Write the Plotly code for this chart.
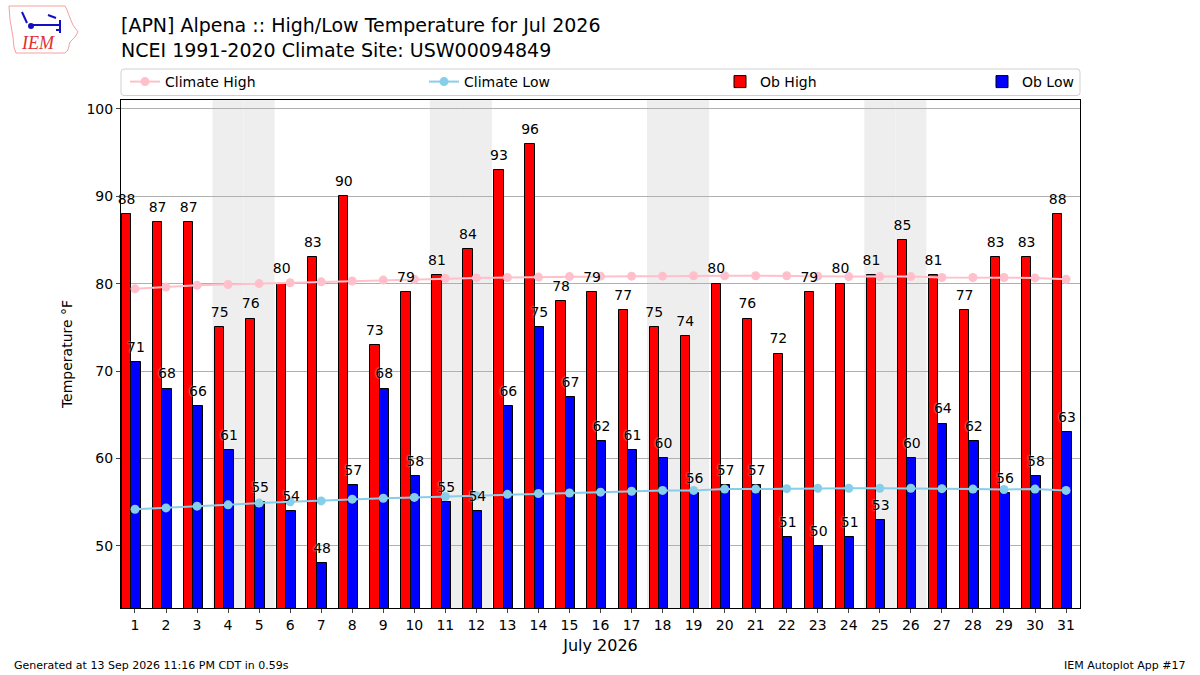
import datetime
import plotly.graph_objects as go

days = list(range(1, 32))
ob_high = [88, 87, 87, 75, 76, 80, 83, 90, 73, 79, 81, 84, 93, 96, 78, 79,
           77, 75, 74, 80, 76, 72, 79, 80, 81, 85, 81, 77, 83, 83, 88]
ob_low = [71, 68, 66, 61, 55, 54, 48, 57, 68, 58, 55, 54, 66, 75, 67, 62,
          61, 60, 56, 57, 57, 51, 50, 51, 53, 60, 64, 62, 56, 58, 63]
climate_high = [79.4, 79.6, 79.8, 79.9, 80.0, 80.1, 80.2, 80.3, 80.4, 80.5,
                80.6, 80.65, 80.7, 80.75, 80.8, 80.85, 80.85, 80.85, 80.9, 80.9,
                80.9, 80.9, 80.85, 80.8, 80.8, 80.8, 80.7, 80.7, 80.7, 80.65, 80.5]
climate_low = [54.2, 54.35, 54.55, 54.7, 54.9, 55.05, 55.15, 55.35, 55.45, 55.55,
               55.65, 55.75, 55.9, 56.0, 56.05, 56.15, 56.25, 56.35, 56.35, 56.5,
               56.5, 56.55, 56.6, 56.6, 56.6, 56.6, 56.55, 56.5, 56.45, 56.5, 56.35]
year, month = 2026, 7

FONT = "DejaVu Sans"
W, H = 1200, 675
ML, MR, MT, MB = 121, 120, 100, 67
PW, PH = W - ML - MR, H - MT - MB


def px(xp):
    return (xp - ML) / PW


def py(yp):
    return 1 - (yp - MT) / PH


HI_OFF, LO_OFF, BW = -0.27, 0.03, 0.3
x_hi = [d + HI_OFF for d in days]
x_lo = [d + LO_OFF for d in days]

fig = go.Figure()

fig.add_trace(go.Bar(
    x=x_hi, y=ob_high, width=BW, name="Ob High", legend="legend3",
    marker=dict(color="#FF0000", line=dict(color="black", width=1))))
fig.add_trace(go.Bar(
    x=x_lo, y=ob_low, width=BW, name="Ob Low", legend="legend4",
    marker=dict(color="#0000FF", line=dict(color="black", width=1))))
fig.add_trace(go.Scatter(
    x=days, y=climate_high, mode="lines+markers", name="Climate High", legend="legend",
    line=dict(color="#FFC0CB", width=2), marker=dict(color="#FFC0CB", size=9)))
fig.add_trace(go.Scatter(
    x=days, y=climate_low, mode="lines+markers", name="Climate Low", legend="legend2",
    line=dict(color="#87CEEB", width=2), marker=dict(color="#87CEEB", size=9)))

label_font = dict(color="black", size=14, family=FONT,
                  shadow="0px 0px 2px white")
for xs, ys in ((x_hi, ob_high), (x_lo, ob_low)):
    fig.add_trace(go.Scatter(
        x=xs, y=ys, mode="markers+text", text=[str(v) for v in ys],
        marker=dict(size=9, opacity=0), textposition="top center",
        textfont=label_font, showlegend=False, cliponaxis=False, hoverinfo="skip"))

shapes = []
for d in days:
    if datetime.date(year, month, d).weekday() >= 5:
        shapes.append(dict(type="rect", xref="x", yref="y domain",
                           x0=d - 0.5, x1=d + 0.5, y0=0, y1=1,
                           fillcolor="#EEEEEE", line=dict(width=0), layer="below"))

# legend frame (rounded)
L, R, T, B, r = 121, 1080, 69, 95.5, 3
frame = [("M", L + r, T), ("L", R - r, T), ("Q", R, T, R, T + r), ("L", R, B - r),
         ("Q", R, B, R - r, B), ("L", L + r, B), ("Q", L, B, L, B - r),
         ("L", L, T + r), ("Q", L, T, L + r, T)]
pth = ""
for seg in frame:
    cmd = seg[0]
    pts = seg[1:]
    coords = " ".join(f"{px(pts[i]):.5f},{py(pts[i + 1]):.5f}" for i in range(0, len(pts), 2))
    pth += f"{cmd} {coords} "
shapes.append(dict(type="path", xref="paper", yref="paper", path=pth + "Z",
                   line=dict(color="#D0D0D0", width=1), fillcolor="rgba(255,255,255,0.8)"))

# logo outline (state shape) and station glyph
outline = [(9, 6), (65, 6), (67, 10), (70, 18), (73, 25), (78, 32), (75, 37), (70, 42),
           (68, 50), (65, 53), (16, 53), (14, 47), (13, 37), (10, 20)]
path = "M " + " L ".join(f"{px(a):.4f},{py(b):.4f}" for a, b in outline) + " Z"
shapes.append(dict(type="path", xref="paper", yref="paper", path=path,
                   line=dict(color="#F4A0A0", width=1)))
glyph = [[(31, 25), (60, 25)], [(60, 20), (60, 33)], [(48, 15), (56, 18)],
         [(22, 12), (27, 23)], [(56, 30), (60, 30)]]
for (a0, b0), (a1, b1) in glyph:
    shapes.append(dict(type="line", xref="paper", yref="paper",
                       x0=px(a0), y0=py(b0), x1=px(a1), y1=py(b1),
                       line=dict(color="#1010C0", width=2)))
shapes.append(dict(type="circle", xref="paper", yref="paper",
                   x0=px(28), x1=px(34), y0=py(23), y1=py(29),
                   fillcolor="#1010C0", line=dict(width=0)))

annotations = [
    dict(text="[APN] Alpena :: High/Low Temperature for Jul 2026<br>NCEI 1991-2020 Climate Site: USW00094849",
         xref="paper", yref="paper", x=px(119), y=py(12), xanchor="left", yanchor="top",
         align="left", showarrow=False, font=dict(size=19, family=FONT, color="black")),
    dict(text="<i>IEM</i>", xref="paper", yref="paper", x=px(38), y=py(43),
         xanchor="center", yanchor="middle", showarrow=False,
         font=dict(size=18, family="Liberation Serif", color="#E03030")),
    dict(text="Generated at 13 Sep 2026 11:16 PM CDT in 0.59s", xref="paper", yref="paper",
         x=px(12), y=py(665), xanchor="left", yanchor="middle", showarrow=False,
         font=dict(size=11, family=FONT, color="black")),
    dict(text="IEM Autoplot App #17", xref="paper", yref="paper",
         x=px(1188), y=py(665), xanchor="right", yanchor="middle", showarrow=False,
         font=dict(size=11, family=FONT, color="black")),
]


def leg(xpix):
    return dict(orientation="h", x=px(xpix), xanchor="left", y=py(82), yanchor="middle",
                bgcolor="rgba(0,0,0,0)", borderwidth=0, itemwidth=30,
                font=dict(size=14, family=FONT))


fig.update_layout(
    width=W, height=H,
    margin=dict(l=ML, r=MR, t=MT, b=MB, autoexpand=False),
    paper_bgcolor="white", plot_bgcolor="white",
    font=dict(family=FONT, size=14, color="black"),
    barmode="overlay", bargap=0,
    shapes=shapes, annotations=annotations,
    legend=leg(125), legend2=leg(424), legend3=leg(720), legend4=leg(982),
    showlegend=True,
    xaxis=dict(range=[0.55, 31.45], tickmode="array", tickvals=days,
               ticktext=[str(d) for d in days], ticks="outside", ticklen=4,
               showgrid=False, zeroline=False, showline=True, linecolor="black",
               linewidth=1, mirror=True, tickfont=dict(size=14),
               title=dict(text="July 2026", font=dict(size=16), standoff=8)),
    yaxis=dict(range=[42.9, 101.0], tickmode="array", tickvals=[50, 60, 70, 80, 90, 100],
               ticks="outside", ticklen=4, showgrid=True, gridcolor="#B0B0B0",
               gridwidth=1, zeroline=False, showline=True, linecolor="black",
               linewidth=1, mirror=True, tickfont=dict(size=14),
               title=dict(text="Temperature °F", font=dict(size=14), standoff=10)),
)

fig.write_html("out.html", post_script="document.body.style.margin='0';",
               config={"displayModeBar": False})
